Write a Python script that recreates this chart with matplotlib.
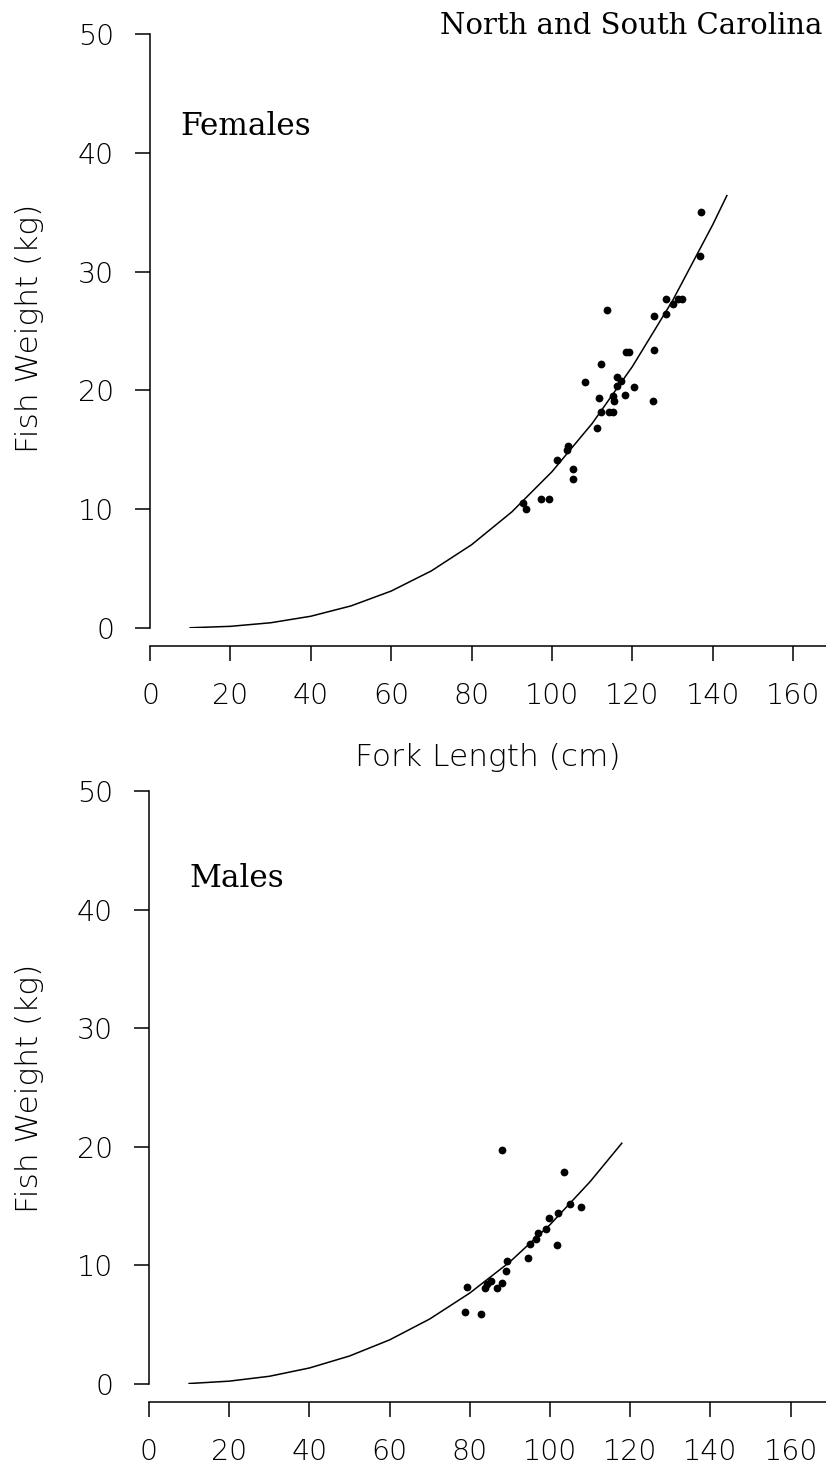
import matplotlib
matplotlib.use("Agg")
import matplotlib.pyplot as plt

# Females: fork length (cm), weight (kg)
fem_length = [137.0, 136.9, 128.3, 131.4, 132.4, 130.2, 125.3, 128.3, 113.8,
              118.3, 119.2, 125.3, 112.3, 108.2, 116.1, 117.1, 116.1, 120.3,
              111.7, 115.1, 115.5, 118.2, 125.1, 112.1, 114.3, 115.1, 111.1,
              104.1, 103.7, 101.3, 105.2, 105.2, 92.9, 93.5, 97.3, 99.3]
fem_weight = [35.0, 31.3, 27.7, 27.7, 27.7, 27.3, 26.3, 26.4, 26.8,
              23.2, 23.2, 23.4, 22.2, 20.7, 21.1, 20.8, 20.4, 20.3,
              19.4, 19.5, 19.1, 19.6, 19.1, 18.2, 18.2, 18.2, 16.8,
              15.3, 15.0, 14.1, 13.4, 12.5, 10.5, 10.0, 10.9, 10.9]

# Males
male_length = [88.1, 103.4, 104.9, 107.8, 101.9, 99.8, 99.0, 97.0, 96.6,
               95.0, 101.8, 94.6, 89.2, 89.1, 88.1, 85.2, 84.2, 83.8, 86.7,
               79.4, 78.8, 82.7]
male_weight = [19.7, 17.9, 15.2, 14.9, 14.4, 14.0, 13.1, 12.7, 12.2,
               11.8, 11.7, 10.6, 10.4, 9.5, 8.5, 8.7, 8.4, 8.1, 8.1,
               8.2, 6.1, 5.9]

# fitted length-weight curves, read at 10 cm steps
fem_curve_len = [10, 20, 30, 40, 50, 60, 70, 80, 90, 100, 110, 120, 130, 140, 143.5]
fem_curve_wt = [0.02, 0.14, 0.44, 0.99, 1.86, 3.11, 4.81, 7.01, 9.77, 13.16,
                17.22, 22.01, 27.56, 33.96, 36.4]
male_curve_len = [10, 20, 30, 40, 50, 60, 70, 80, 90, 100, 110, 117.9]
male_curve_wt = [0.04, 0.24, 0.65, 1.35, 2.36, 3.72, 5.48, 7.67, 10.30, 13.43,
                 17.06, 20.3]

x_ticks = [0, 20, 40, 60, 80, 100, 120, 140, 160]
y_ticks = [0, 10, 20, 30, 40, 50]

W, H = 826, 1467
fig = plt.figure(figsize=(W / 100, H / 100), dpi=100)

tick_font = {"family": "DejaVu Sans", "weight": "light", "size": 20.5}
serif = "DejaVu Serif"


def style_axes(ax):
    ax.set_xlim(0, 172)
    ax.set_ylim(0, 50)
    for s in ("top", "right"):
        ax.spines[s].set_visible(False)
    ax.spines["left"].set_bounds(0, 50)
    ax.spines["bottom"].set_position(("outward", 13))
    for s in ("left", "bottom"):
        ax.spines[s].set_linewidth(1.1)
    ax.set_xticks(x_ticks)
    ax.set_yticks(y_ticks)
    ax.tick_params(direction="out", length=10.8, width=1.1, pad=15)
    ax.set_xticklabels([str(t) for t in x_ticks], fontdict=tick_font)
    ax.set_yticklabels([str(t) for t in y_ticks], fontdict=tick_font)
    ax.patch.set_alpha(0)


# top panel: females
ax1 = fig.add_axes([150 / W, 1 - 628 / H, 172 * 4.02 / W, 594 / H])
style_axes(ax1)
ax1.plot(fem_curve_len, fem_curve_wt, color="black", lw=1.1)
ax1.plot(fem_length, fem_weight, "o", color="black", ms=5.6, mew=0)
ax1.text(7.5, 41.5, "Females", family=serif, fontsize=22.5, va="baseline")

# bottom panel: males
ax2 = fig.add_axes([149 / W, 1 - 1384 / H, 172 * 4.01 / W, 593 / H])
style_axes(ax2)
ax2.plot(male_curve_len, male_curve_wt, color="black", lw=1.1)
ax2.plot(male_length, male_weight, "o", color="black", ms=5.6, mew=0)
ax2.text(10.2, 41.9, "Males", family=serif, fontsize=22.5, va="baseline")

# axis labels and title
label_kw = dict(family="DejaVu Sans", weight="light", fontsize=22.5)
fig.text(30 / W, 1 - 328 / H, "Fish Weight (kg)", rotation=90, ha="center",
         va="center", **label_kw)
fig.text(30 / W, 1 - 1088 / H, "Fish Weight (kg)", rotation=90, ha="center",
         va="center", **label_kw)
fig.text(488 / W, 1 - 757 / H, "Fork Length (cm)", ha="center", va="center",
         **label_kw)
fig.text(822 / W, 1 - 34 / H, "North and South Carolina", ha="right",
         va="baseline", family=serif, fontsize=21)

fig.savefig("out.png", dpi=100, facecolor="white")
